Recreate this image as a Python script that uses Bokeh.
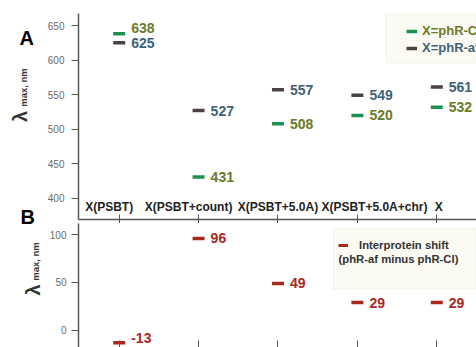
import math
from bokeh.plotting import figure
from bokeh.layouts import column, row
from bokeh.models import (ColumnDataSource, Range1d, FixedTicker, Label, Legend,
                          LegendItem, BoxAnnotation)
from bokeh.core.properties import value
from bokeh.embed import file_html
from bokeh.resources import INLINE

# ---------------- data ----------------
categories = ["X(PSBT)", "X(PSBT+count)", "X(PSBT+5.0A)", "X(PSBT+5.0A+chr)", "X"]
lam_cl = [638, 431, 508, 520, 532]      # X = phR-Cl
lam_af = [625, 527, 557, 549, 561]      # X = phR-af
shift = [-13, 96, 49, 29, 29]           # phR-af minus phR-Cl
ticks_a = [400, 450, 500, 550, 600, 650]
ticks_b = [0, 50, 100]
legend_a = ["X=phR-Cl", "X=phR-af"]
legend_b = ["Interprotein shift", "(phR-af minus phR-Cl)"]
panel_letters = ["A", "B"]
y_title = ["λ", "max, nm"]

# ---------------- style ----------------
FONT = "Liberation Sans"
GREEN = "#1e9150"
DARK = "#4a4244"
OLIVE = "#6b7a28"
SLATE = "#3e6378"
RED = "#a8281c"
AXIS = "#555555"
TICKLAB = "#6a6a6a"
TITLE = "#333333"
label_shift_px = [-10, -10, 0, 17, 2]   # horizontal nudges of category labels
cl_label_dy = [-6, 0, 0, 0, 0]          # vertical nudges of phR-Cl value labels
d_label_dy = [-5, 0, 0, 0, 0]           # vertical nudges of shift value labels

LW = 44          # width of the left strip with panel letters / titles
H = 347
W = 476 - LW
XR = (-0.5125, 4.5)
YA = (369.5, 667.4)
YB = (-17.9, 111.6)
NAN = float("nan")

# page-pixel helpers for annotations
def ax(px):
    return XR[0] + (px - 75) / 80.0

def ay(py):
    return YA[1] - (py - 13) * (YA[1] - YA[0]) / 205.0

def by(py):
    return YB[1] - (py - 223) * (YB[1] - YB[0]) / 123.0

def ly(py):
    return H - py

xs = list(range(len(categories)))
src = ColumnDataSource(dict(
    x=xs, cl=lam_cl, af=lam_af, d=shift,
    cl_t=[str(v) for v in lam_cl], af_t=[str(v) for v in lam_af],
    d_t=[str(v) for v in shift], cat=categories,
    base=[YA[0]] * len(categories), dx=label_shift_px, cdy=cl_label_dy, ddy=d_label_dy,
))


def style_common(p):
    p.outline_line_color = None
    p.grid.visible = False
    p.background_fill_color = "white"
    p.border_fill_color = "white"


def style_yaxis(ax_, standoff):
    ax_.axis_line_color = AXIS
    ax_.axis_line_width = 1.5
    ax_.major_tick_line_color = AXIS
    ax_.major_tick_out = 7
    ax_.major_tick_in = 0
    ax_.minor_tick_line_color = None
    ax_.major_label_text_font = FONT
    ax_.major_label_text_font_size = "10px"
    ax_.major_label_text_color = TICKLAB
    ax_.major_label_standoff = standoff


# ---------------- left strip: panel letters and axis titles ----------------
pl = figure(width=LW, height=H, x_range=Range1d(0, LW), y_range=Range1d(0, H),
            output_backend="svg", toolbar_location=None,
            x_axis_location=None, y_axis_location=None,
            min_border_left=0, min_border_right=0, min_border_top=0, min_border_bottom=0)
style_common(pl)
pl.text(x=[19, 20], y=[ly(37), ly(216)], text=panel_letters, text_align="left",
        text_baseline="alphabetic", text_font=value(FONT), text_font_style="bold",
        text_font_size="20px", text_color="black")
pl.text(x=[19.5, 32], y=[ly(116), ly(289.5)], text=[y_title[0]] * 2, angle=math.pi / 2,
        text_align="center", text_baseline="middle", text_font=value(FONT),
        text_font_style="bold", text_font_size="20px", text_color=TITLE)
pl.text(x=[23, 35], y=[ly(87), ly(261)], text=[y_title[1]] * 2, angle=math.pi / 2,
        text_align="center", text_baseline="middle", text_font=value(FONT),
        text_font_style="bold", text_font_size="9.5px", text_color=TITLE)

# ---------------- panel A ----------------
pa = figure(width=W, height=223, x_range=Range1d(*XR), y_range=Range1d(*YA),
            output_backend="svg", toolbar_location=None,
            min_border_left=75 - LW, min_border_right=0, min_border_top=13, min_border_bottom=0)
style_common(pa)
pa.yaxis.ticker = FixedTicker(ticks=ticks_a)
style_yaxis(pa.yaxis[0], 7)
xa = pa.xaxis[0]
xa.ticker = FixedTicker(ticks=xs)
xa.axis_line_color = AXIS
xa.axis_line_width = 1.5
xa.major_tick_line_color = AXIS
xa.major_tick_in = 5
xa.major_tick_out = 4
xa.minor_tick_line_color = None
xa.major_label_text_font_size = "0px"
xa.major_label_standoff = 0

pa.add_layout(BoxAnnotation(left=ax(385), top=ay(14), bottom=ay(62),
                            fill_color="#fbfbf3", fill_alpha=1,
                            line_color="#dfe3cf", line_width=1.5))

pa.scatter("x", "cl", source=src, marker="dash", size=12, line_width=3.5, line_color=GREEN)
pa.scatter("x", "af", source=src, marker="dash", size=12, line_width=3.5, line_color=DARK)
txt = dict(x_offset=12, text_baseline="middle", text_align="left",
           text_font=value(FONT), text_font_style="bold", text_font_size="14px")
pa.text("x", "cl", text="cl_t", source=src, text_color=OLIVE, y_offset="cdy", **txt)
pa.text("x", "af", text="af_t", source=src, text_color=SLATE, **txt)
pa.text("x", "base", text="cat", source=src, x_offset="dx", y_offset=-13,
        text_align="center", text_baseline="middle", text_font=value(FONT),
        text_font_style="bold", text_font_size="12px", text_color="#222222")

lg_cl = pa.line(x=[NAN], y=[NAN], line_color=GREEN, line_width=3.5)
lg_af = pa.line(x=[NAN], y=[NAN], line_color=DARK, line_width=3.5)
for item_label, rend, col, vy in [(legend_a[0], lg_cl, OLIVE, 181), (legend_a[1], lg_af, SLATE, 164)]:
    lg = Legend(items=[LegendItem(label=item_label, renderers=[rend])], location=(328, vy),
                padding=0, margin=0, glyph_width=11, glyph_height=14, label_height=14,
                label_standoff=5, label_text_font=FONT, label_text_font_style="bold",
                label_text_font_size="13px", label_text_color=col,
                background_fill_alpha=0, border_line_alpha=0)
    pa.add_layout(lg, "center")

# ---------------- panel B ----------------
pb = figure(width=W, height=124, x_range=pa.x_range, y_range=Range1d(*YB),
            output_backend="svg", toolbar_location=None,
            min_border_left=75 - LW, min_border_right=0, min_border_top=0, min_border_bottom=0)
style_common(pb)
pb.yaxis.ticker = FixedTicker(ticks=ticks_b)
style_yaxis(pb.yaxis[0], 5)
xb = pb.xaxis[0]
xb.ticker = FixedTicker(ticks=xs)
xb.axis_line_color = None
xb.major_tick_line_color = AXIS
xb.major_tick_in = 7
xb.major_tick_out = 0
xb.minor_tick_line_color = None
xb.major_label_text_font_size = "0px"
xb.major_label_standoff = 0

pb.add_layout(BoxAnnotation(left=ax(332), top=by(228), bottom=by(288),
                            fill_color="#fbfbf3", fill_alpha=1,
                            line_color="#dfe3cf", line_width=1.5))

pb.scatter("x", "d", source=src, marker="dash", size=12, line_width=3.5, line_color=RED)
pb.text("x", "d", text="d_t", source=src, text_color=RED, y_offset="ddy", **txt)

lg_d = pb.line(x=[NAN], y=[NAN], line_color=RED, line_width=3)
pb.add_layout(Legend(items=[LegendItem(label=legend_b[0], renderers=[lg_d])], location=(260, 95),
                     padding=0, margin=0, glyph_width=10, glyph_height=14, label_height=14,
                     label_standoff=11, label_text_font=FONT, label_text_font_style="bold",
                     label_text_font_size="11.3px", label_text_color=TITLE,
                     background_fill_alpha=0, border_line_alpha=0), "center")
pb.add_layout(Label(x=ax(337), y=by(258), text=legend_b[1], text_baseline="middle",
                    text_font=FONT, text_font_style="bold", text_font_size="11.3px",
                    text_color=TITLE))

layout = row(pl, column(pa, pb, spacing=0), spacing=0)
open("out.html", "w").write(file_html(layout, INLINE))
